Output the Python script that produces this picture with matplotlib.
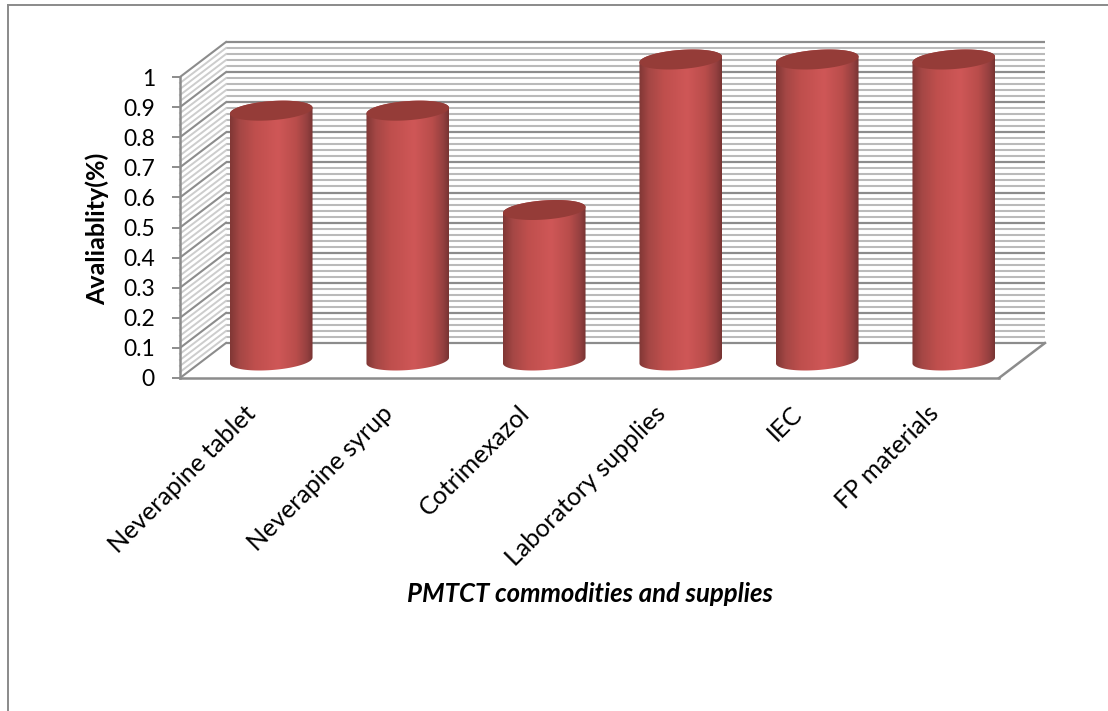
import matplotlib
matplotlib.use("Agg")
import matplotlib.pyplot as plt
import numpy as np
from matplotlib.colors import LinearSegmentedColormap
from matplotlib.lines import Line2D
from matplotlib.patches import Polygon
from matplotlib.transforms import ScaledTranslation

plt.rcParams['font.family'] = ['Lato', 'DejaVu Sans']

categories = ['Neverapine tablet', 'Neverapine syrup', 'Cotrimexazol',
              'Laboratory supplies', 'IEC', 'FP materials']
availability = [0.83, 0.83, 0.5, 1, 1, 1]
major_ticks = [0, 0.1, 0.2, 0.3, 0.4, 0.5, 0.6, 0.7, 0.8, 0.9, 1]
tick_labels = ['0', '0.1', '0.2', '0.3', '0.4', '0.5', '0.6', '0.7', '0.8', '0.9', '1']
x_title = 'PMTCT commodities and supplies'
y_title = 'Avaliablity(%)'

# depth of the fake 3D box, in data units
DX = 46 / 136.5
DY = 35 / 301
# cylinder cross section
RX = 39.5 / 136.5
SX = 12 / 136.5
RY = 10 / 301

MAJOR = '#8c8c8c'
MINOR = '#bababa'
SIDE = '#cdcdcd'
TOP_CAP = '#953c38'

W, H = 1108, 711
fig = plt.figure(figsize=(W / 100, H / 100), dpi=100)
ax = fig.add_axes([180 / W, (H - 378) / H, 819 / W, 301 / H])
ax.set_xlim(-0.5, 5.5)
ax.set_ylim(0, 1)
ax.patch.set_visible(False)


def draw_walls():
    x0, x1 = -0.5, 5.5
    for k in range(51):
        v = k * 0.02
        is_major = k % 5 == 0
        ax.plot([x0 + DX, x1 + DX], [v + DY, v + DY], clip_on=False, zorder=1,
                color=MAJOR if is_major else MINOR, lw=1.6 if is_major else 1.5,
                solid_capstyle='butt')
        ax.plot([x0, x0 + DX], [v, v + DY], clip_on=False, zorder=1,
                color=MAJOR if is_major else SIDE, lw=1.5 if is_major else 1.4)
    # right edge of the floor
    ax.plot([x1, x1 + DX], [0, DY], clip_on=False, zorder=1, color=MAJOR, lw=1.8)


def ellipse(cx, cy, start=0, stop=2 * np.pi, n=120):
    t = np.linspace(start, stop, n)
    return (cx + RX * np.cos(t) + SX * np.sin(t), cy + RY * np.sin(t))


def draw_cylinder(i, value, cmap):
    cx = i + DX / 2
    base = DY / 2
    top = base + value

    # body outline: lower half of the base ellipse, upper half of the top one
    t0 = np.arctan2(SX, RX)
    xb, yb = ellipse(cx, base, np.pi + t0, 2 * np.pi + t0)
    xt, yt = ellipse(cx, top, t0, np.pi + t0)
    body = Polygon(np.column_stack([np.r_[xb, xt], np.r_[yb, yt]]),
                   closed=True, transform=ax.transData, facecolor='none',
                   edgecolor='none')
    ax.add_patch(body)
    half = np.hypot(RX, SX)
    grad = np.linspace(0, 1, 256).reshape(1, -1)
    im = ax.imshow(grad, cmap=cmap, aspect='auto', zorder=3,
                   extent=[cx - half, cx + half, base - 2 * RY, top + 2 * RY])
    # the tallest bars rise above the front plane, so clip to the body only
    im.set_clip_path(body)
    im.set_clip_box(fig.bbox)

    xc, yc = ellipse(cx, top)
    ax.fill(xc, yc, color=TOP_CAP, zorder=4, clip_on=False, lw=0)


draw_walls()

shade = LinearSegmentedColormap.from_list('cylinder', [
    (0.0, '#803735'), (0.12, '#a54745'), (0.3, '#bf4f4d'), (0.58, '#cf5757'),
    (0.8, '#b94d4b'), (0.93, '#954040'), (1.0, '#773432')])
for i, value in enumerate(availability):
    draw_cylinder(i, value, shade)
ax.set_xlim(-0.5, 5.5)
ax.set_ylim(0, 1)

# axis lines and ticks
for name in ('top', 'right'):
    ax.spines[name].set_visible(False)
for name in ('left', 'bottom'):
    ax.spines[name].set_color(MAJOR)
    ax.spines[name].set_linewidth(1.8)
ax.set_yticks(major_ticks, tick_labels, fontsize=16.5)
ax.tick_params(axis='y', length=6, width=1.4, color=MAJOR, pad=12, labelcolor='black')
ax.set_xticks(range(len(categories)))
ax.set_xticklabels(categories, rotation=45, ha='right', rotation_mode='anchor',
                   fontsize=18)
ax.tick_params(axis='x', length=0, pad=17)
nudge = ScaledTranslation(-4 / 100, 0, fig.dpi_scale_trans)
for label in ax.get_xticklabels():
    label.set_transform(label.get_transform() + nudge)

fig.text(590 / W, 1 - 594 / H, x_title, fontsize=18.5, fontweight='bold',
         fontstyle='italic', ha='center', va='center')
fig.text(97 / W, 1 - 229 / H, y_title, fontsize=18, fontweight='bold',
         rotation=90, ha='center', va='center')

# page frame around the chart
fig.add_artist(Line2D([8 / W, 8 / W], [0, 1 - 5 / H], color='#8a8a8a', lw=1.4))
fig.add_artist(Line2D([8 / W, 1], [1 - 5 / H, 1 - 5 / H], color='#8a8a8a', lw=1.4))

fig.savefig('out.png', dpi=100, facecolor='white')
